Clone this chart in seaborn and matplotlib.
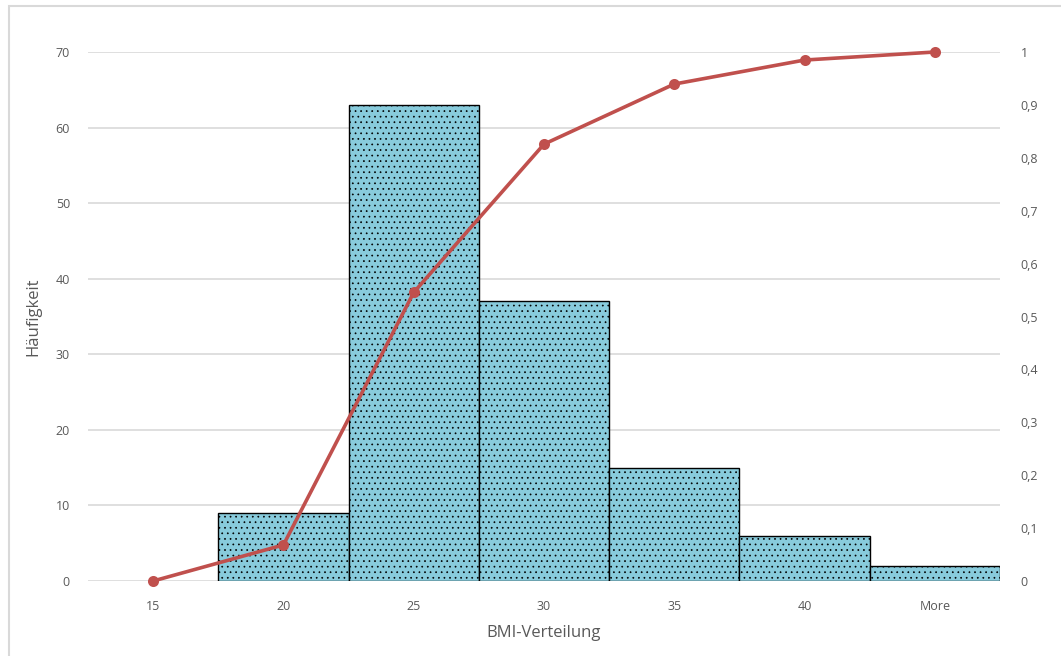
import matplotlib
matplotlib.use("Agg")
import matplotlib.pyplot as plt
from matplotlib.patches import Rectangle
import seaborn as sns
import numpy as np

categories = ["15", "20", "25", "30", "35", "40", "More"]
frequency = [0, 9, 63, 37, 15, 6, 2]
cumulative = [0.0, 0.0682, 0.5455, 0.8258, 0.9394, 0.9848, 1.0]
left_ticks = [0, 10, 20, 30, 40, 50, 60, 70]
right_ticks = [0, 0.1, 0.2, 0.3, 0.4, 0.5, 0.6, 0.7, 0.8, 0.9, 1.0]
right_labels = ["0", "0,1", "0,2", "0,3", "0,4", "0,5", "0,6", "0,7", "0,8", "0,9", "1"]

sns.set_style("white")
plt.rcParams["font.family"] = ["Open Sans", "DejaVu Sans"]
plt.rcParams["hatch.linewidth"] = 0.5

txt = "#595959"
grid = "#D9D9D9"
line_c = "#C0504D"

fig = plt.figure(figsize=(10.61, 6.56), dpi=100)
ax = fig.add_axes([88 / 1061, 1 - 581 / 656, (1000 - 88) / 1061, (581 - 52) / 656])

sns.barplot(x=categories, y=frequency, ax=ax, width=1.0, color="#88CBDC",
            saturation=1, edgecolor="black", linewidth=1.0, hatch="...", zorder=2)
for p in ax.patches:
    if p.get_height() == 0:
        p.set_visible(False)

ax.set_ylim(0, 70)
ax.set_yticks(left_ticks)
ax.set_xlim(-0.5, len(categories) - 0.5)
ax.yaxis.grid(True, color=grid, linewidth=1.2, zorder=0)
ax.set_axisbelow(True)
for s in ax.spines.values():
    s.set_visible(False)
ax.tick_params(axis="both", length=0, colors=txt, labelsize=9)
ax.tick_params(axis="y", pad=13)
ax.tick_params(axis="x", pad=14)
ax.set_ylabel("Häufigkeit", fontsize=12, color=txt, labelpad=10)
ax.set_xlabel("BMI-Verteilung", fontsize=12, color=txt, labelpad=8)

ax2 = ax.twinx()
sns.pointplot(x=categories, y=cumulative, ax=ax2, color=line_c,
              markers="o", markersize=6, linewidth=2.6, zorder=5)
for ln in ax2.lines:
    ln.set_clip_on(False)
for c in ax2.collections:
    c.set_clip_on(False)
ax2.set_ylim(0, 1.0)
ax2.set_yticks(right_ticks)
ax2.set_yticklabels(right_labels)
ax2.set_xlim(-0.5, len(categories) - 0.5)
ax2.set_ylabel("")
for s in ax2.spines.values():
    s.set_visible(False)
ax2.tick_params(axis="y", length=0, colors=txt, labelsize=9, pad=15)
ax2.grid(False)

fig.patches.append(Rectangle((9 / 1061, -0.01), 1.2, 1 - 6 / 656 + 0.01,
                             transform=fig.transFigure, fill=False,
                             edgecolor="#D9D9D9", linewidth=1.5))

fig.savefig("out.png", dpi=100)
